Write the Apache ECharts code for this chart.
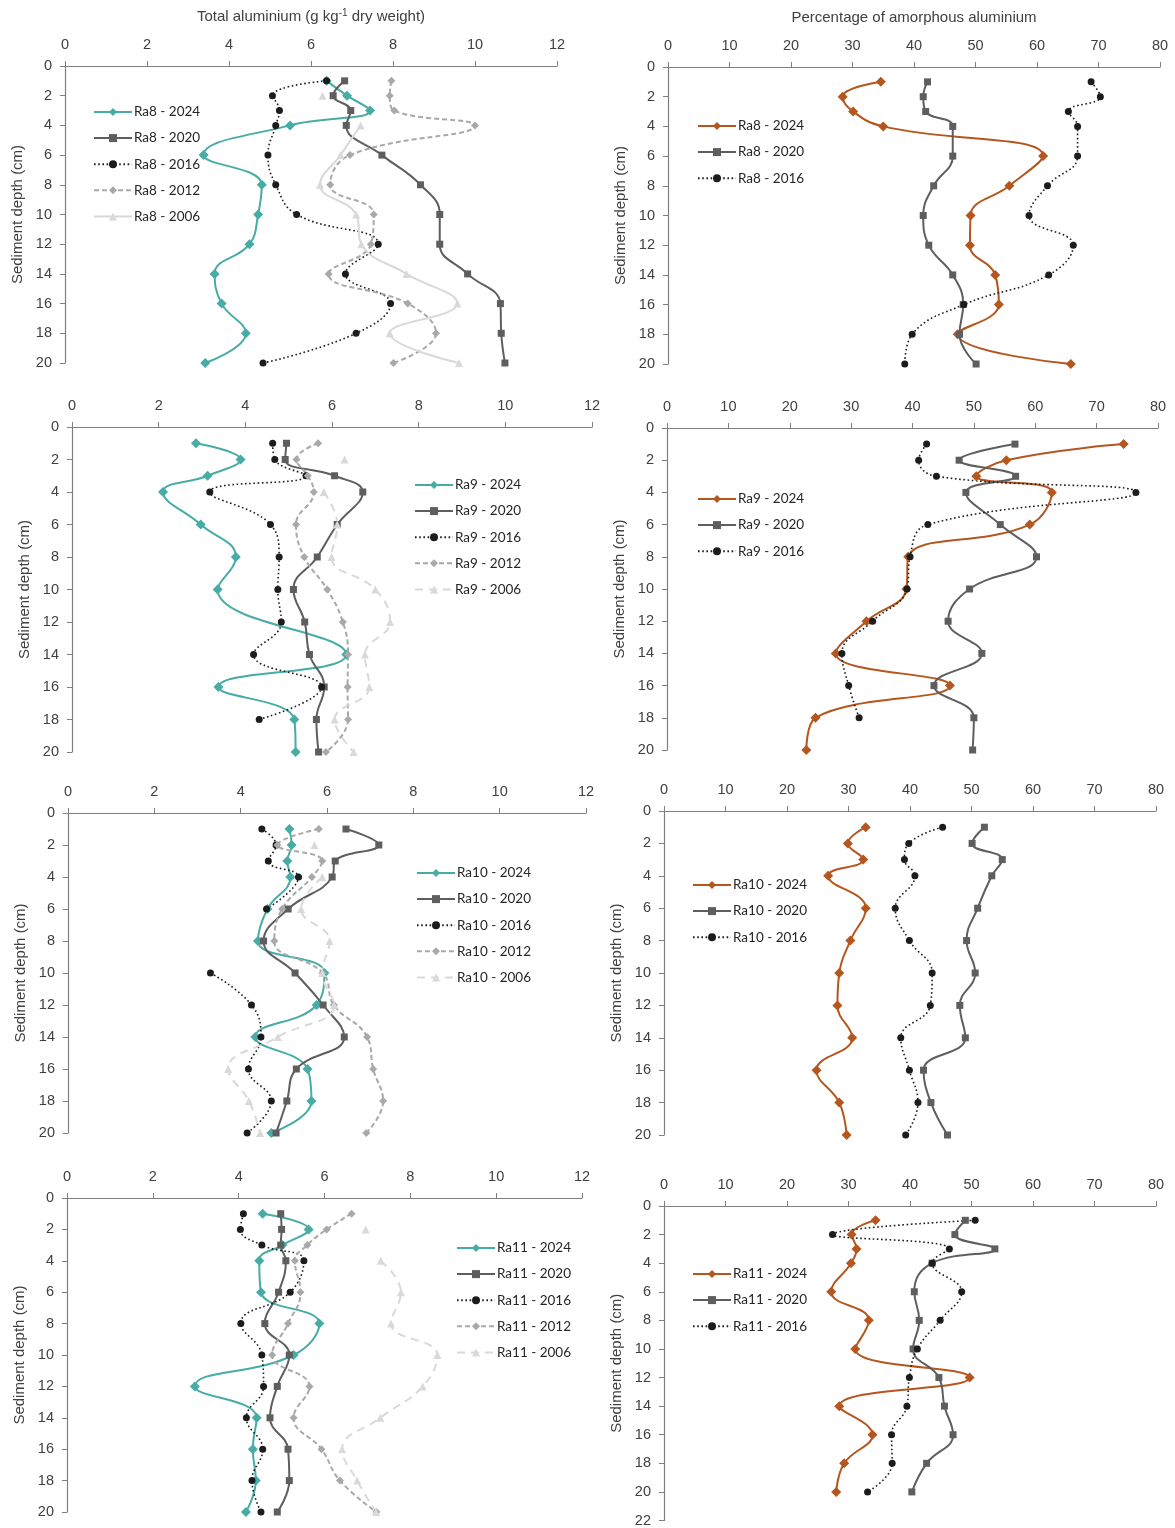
<!DOCTYPE html>
<html>
<head>
<meta charset="utf-8">
<script src="https://cdn.jsdelivr.net/npm/echarts@6/dist/echarts.min.js"></script>
<style>
html,body{margin:0;padding:0;background:#fff;}
#chart{width:1175px;height:1528px;}
</style>
</head>
<body>
<div id="chart"></div>
<script>
// ---- data (depth in cm) ----
const depths = [1, 2, 3, 4, 6, 8, 10, 12, 14, 16, 18, 20];
const yTicksMax = [20, 20, 20, 20, 20, 20, 20, 22];

// Total aluminium (g/kg dry weight)
const ra8Total2024 = [6.38, 6.88, 7.44, 5.49, 3.38, 4.80, 4.71, 4.50, 3.65, 3.82, 4.41, 3.42];
const ra8Total2020 = [6.82, 6.54, 6.97, 6.86, 7.73, 8.67, 9.14, 9.14, 9.82, 10.62, 10.64, 10.73];
const ra8Total2016 = [6.38, 5.06, 5.23, 5.14, 4.95, 5.14, 5.65, 7.64, 6.84, 7.94, 7.10, 4.83];
const ra8Total2012 = [7.96, 7.92, 8.03, 10.0, 6.95, 6.47, 7.53, 7.46, 6.43, 8.36, 9.05, 8.01];
const ra8Total2006 = [null, 6.28, null, 7.21, 6.72, 6.22, 7.10, 7.23, 8.33, 9.57, 7.92, 9.61];

const ra9Total2024 = [2.86, 3.89, 3.13, 2.10, 2.97, 3.78, 3.36, null, 6.33, 3.38, 5.13, 5.16];
const ra9Total2020 = [4.95, 4.92, 6.06, 6.71, 6.12, 5.66, 5.11, 5.37, 5.48, 5.82, 5.64, 5.69];
const ra9Total2016 = [4.63, 4.68, 5.40, 3.18, 4.58, 4.78, 4.75, 4.83, 4.19, 5.76, 4.32, null];
const ra9Total2012 = [5.68, 5.18, 5.44, 5.58, 5.17, 5.36, 5.89, 6.25, 6.37, 6.36, 6.37, 5.86];
const ra9Total2006 = [null, 6.29, null, 5.81, 6.12, 5.99, 7.00, 7.34, 6.76, 6.86, 6.06, 6.50];

const ra10Total2024 = [5.13, 5.18, 5.08, 5.15, 4.62, 4.40, 5.94, 5.76, 4.34, 5.55, 5.64, 4.71];
const ra10Total2020 = [6.44, 7.20, 6.19, 6.12, 5.10, 4.53, 5.26, 5.91, 6.40, 5.29, 5.07, 4.82];
const ra10Total2016 = [4.49, 4.82, 4.64, 5.34, 4.60, null, 3.30, 4.25, 4.47, 4.18, 4.71, 4.15];
const ra10Total2012 = [5.81, 4.85, 5.89, 5.65, 4.96, 4.78, 5.90, 6.16, 6.93, 7.07, 7.30, 6.91];
const ra10Total2006 = [null, 5.71, null, 5.89, 5.40, 6.06, 5.89, 6.16, 4.86, 3.71, 4.19, 4.45];

const ra11Total2024 = [4.56, 5.63, 5.02, 4.48, 4.52, 5.88, 5.28, 2.98, 4.42, 4.33, 4.40, 4.17];
const ra11Total2020 = [4.98, 5.00, 4.98, 5.10, 4.93, 4.61, 5.18, 4.90, 4.73, 5.15, 5.18, 4.90];
const ra11Total2016 = [4.11, 4.04, 4.54, 5.52, 5.20, 4.05, 4.54, 4.58, 4.18, 4.56, 4.31, 4.52];
const ra11Total2012 = [6.63, 6.05, 5.60, 5.31, 5.44, 5.15, 4.78, 5.65, 5.28, 5.93, 6.36, 7.21];
const ra11Total2006 = [null, 6.96, null, 7.31, 7.78, 7.55, 8.63, 8.29, 7.30, 6.41, 6.76, 7.20];

// Percentage of amorphous aluminium
const ra8Pct2024 = [34.6, 28.4, 30.1, 35.0, 61.0, 55.5, 49.2, 49.1, 53.2, 53.8, 47.1, 65.5];
const ra8Pct2020 = [42.2, 41.5, 41.9, 46.3, 46.3, 43.2, 41.5, 42.4, 46.3, 48.0, 47.4, 50.1];
const ra8Pct2016 = [68.8, 70.3, 65.1, 66.6, 66.6, 61.7, 58.7, 65.9, 61.9, 48.1, 39.7, 38.5];

const ra9Pct2024 = [74.4, 55.3, 50.4, 62.7, 59.1, 39.3, 39.0, 32.5, 27.5, 46.1, 24.2, 22.7];
const ra9Pct2020 = [56.7, 47.6, 56.8, 48.7, 54.3, 60.2, 49.3, 45.8, 51.3, 43.5, 50.0, 49.8];
const ra9Pct2016 = [42.3, 41.0, 43.9, 76.4, 42.5, 39.6, 39.1, 33.5, 28.5, 29.6, 31.3, null];

const ra10Pct2024 = [32.8, 29.9, 32.4, 26.7, 32.8, 30.3, 28.5, 28.2, 30.6, 24.8, 28.5, 29.7];
const ra10Pct2020 = [52.1, 50.1, 55.0, 53.3, 51.0, 49.2, 50.6, 48.1, 49.0, 42.2, 43.4, 46.1];
const ra10Pct2016 = [45.3, 39.8, 39.1, 40.8, 37.6, 39.9, 43.6, 43.3, 38.5, 39.9, 41.3, 39.3];

const ra11Pct2024 = [34.4, 30.5, 31.3, 30.4, 27.2, 33.3, 31.1, 49.7, 28.5, 33.9, 29.3, 28.0];
const ra11Pct2020 = [49.0, 47.3, 53.8, 43.6, 40.7, 41.5, 40.5, 44.7, 45.6, 47.0, 42.7, 40.3];
const ra11Pct2016 = [50.6, 27.4, 46.4, 43.6, 48.4, 44.9, 41.2, 39.9, 39.5, 37.0, 37.1, 33.1];

const sites = ['Ra8', 'Ra9', 'Ra10', 'Ra11'];
const years = ['2024', '2020', '2016', '2012', '2006'];
const totalData = [
  [ra8Total2024, ra8Total2020, ra8Total2016, ra8Total2012, ra8Total2006],
  [ra9Total2024, ra9Total2020, ra9Total2016, ra9Total2012, ra9Total2006],
  [ra10Total2024, ra10Total2020, ra10Total2016, ra10Total2012, ra10Total2006],
  [ra11Total2024, ra11Total2020, ra11Total2016, ra11Total2012, ra11Total2006]
];
const pctData = [
  [ra8Pct2024, ra8Pct2020, ra8Pct2016],
  [ra9Pct2024, ra9Pct2020, ra9Pct2016],
  [ra10Pct2024, ra10Pct2020, ra10Pct2016],
  [ra11Pct2024, ra11Pct2020, ra11Pct2016]
];

// ---- layout ----
const leftGrids = [
  {left: 65, top: 66, width: 492, height: 297},
  {left: 72, top: 427, width: 520, height: 325},
  {left: 68, top: 813, width: 518, height: 320},
  {left: 67, top: 1198, width: 515, height: 314}
];
const rightGrids = [
  {left: 668, top: 67, width: 492, height: 297},
  {left: 667, top: 428, width: 491, height: 322},
  {left: 664, top: 811, width: 492, height: 324},
  {left: 664, top: 1206, width: 492, height: 316}
];
const leftLegendPos = [{left: 93, top: 105}, {left: 414, top: 478}, {left: 416, top: 866}, {left: 456, top: 1241}];
const rightLegendPos = [{left: 697, top: 119}, {left: 697, top: 492}, {left: 692, top: 878}, {left: 692, top: 1267}];

const AX = '#7f7f7f';
const TXT = '#404040';
const FONT = '"Liberation Sans", Arial, sans-serif';

function styleFor(year, right, rowIdx) {
  if (year === '2024') return {color: right ? '#B4561D' : '#47ACA6', symbol: 'diamond', symbolSize: 10, lineStyle: {width: 2}};
  if (year === '2020') return {color: '#5E5E5E', symbol: 'rect', symbolSize: 7, lineStyle: {width: 2}};
  if (year === '2016') return {color: '#1C1C1C', symbol: 'circle', symbolSize: 7, lineStyle: {width: 1.6, type: [1.6, 2.6]}};
  if (year === '2012') return {color: '#A9A9A9', symbol: 'diamond', symbolSize: 8, lineStyle: {width: 2, type: [5, 3]}};
  return {color: '#D9D9D9', symbol: 'triangle', symbolSize: 8, lineStyle: {width: 2, type: rowIdx === 0 ? 'solid' : [8, 6]}};
}

function pairs(vals) {
  return depths.map((d, i) => (vals[i] === null ? ['-', d] : [vals[i], d]));
}

const grid = [], xAxis = [], yAxis = [], series = [], legend = [];

function addPanel(idx, g, xmax, xint, ymax, name, datasets, right, row, legendPos) {
  grid.push(Object.assign({containLabel: false}, g));
  xAxis.push({
    type: 'value', gridIndex: idx, position: 'top', min: 0, max: xmax, interval: xint,
    axisLine: {show: true, lineStyle: {color: AX, width: 1.2}},
    axisTick: {show: true, length: 5, lineStyle: {color: AX}},
    splitLine: {show: false},
    axisLabel: {color: TXT, fontSize: 14.5, fontFamily: FONT, margin: 14},
    name: name, nameLocation: 'middle', nameGap: 40,
    nameTextStyle: {color: TXT, fontSize: 15, fontFamily: FONT, lineHeight: 18,
      rich: {sup: {fontSize: 10, lineHeight: 10, verticalAlign: 'top', color: TXT, fontFamily: FONT}}}
  });
  yAxis.push({
    type: 'value', gridIndex: idx, inverse: true, min: 0, max: ymax, interval: 2,
    axisLine: {show: true, lineStyle: {color: AX, width: 1.2}},
    axisTick: {show: true, length: 5, lineStyle: {color: AX}},
    splitLine: {show: false},
    axisLabel: {color: TXT, fontSize: 14.5, fontFamily: FONT, margin: 13},
    name: 'Sediment depth (cm)', nameLocation: 'middle', nameGap: 40, nameRotate: 90,
    nameTextStyle: {color: TXT, fontSize: 15, fontFamily: FONT}
  });
  const names = [];
  datasets.forEach((vals, k) => {
    const year = years[k];
    const label = sites[row] + ' - ' + year;
    const sname = right ? label + '#pct' : label;
    names.push(sname);
    const st = styleFor(year, right, row);
    const noConnect = (year === '2006') || (row === 2 && year === '2016' && !right);
    series.push({
      type: 'line', name: sname, xAxisIndex: idx, yAxisIndex: idx,
      data: pairs(vals), smooth: 0.45, connectNulls: !noConnect,
      symbol: st.symbol, symbolSize: st.symbolSize, showSymbol: true,
      itemStyle: {color: st.color},
      lineStyle: Object.assign({color: st.color}, st.lineStyle),
      emphasis: {disabled: true}, animation: false
    });
  });
  legend.push(Object.assign({
    orient: 'vertical', data: names, itemWidth: 38, itemHeight: 10, itemGap: 12.1,
    padding: 0, selectedMode: false,
    formatter: n => n.split('#')[0],
    textStyle: {fontFamily: 'Lato, "Open Sans", sans-serif', fontSize: 13.5, color: '#262626', padding: [0, 0, 0, -3]}
  }, legendPos));
}

for (let r = 0; r < 4; r++) {
  addPanel(r * 2, leftGrids[r], 12, 2, 20,
    r === 0 ? 'Total aluminium (g kg{sup|-1} dry weight)' : '',
    totalData[r], false, r, leftLegendPos[r]);
  addPanel(r * 2 + 1, rightGrids[r], 80, 10, yTicksMax[r * 2 + 1],
    r === 0 ? 'Percentage of amorphous aluminium' : '',
    pctData[r], true, r, rightLegendPos[r]);
}

const chart = echarts.init(document.getElementById('chart'), null, {renderer: 'canvas'});
chart.setOption({
  backgroundColor: '#ffffff',
  animation: false,
  grid, xAxis, yAxis, series, legend
});
</script>
</body>
</html>
